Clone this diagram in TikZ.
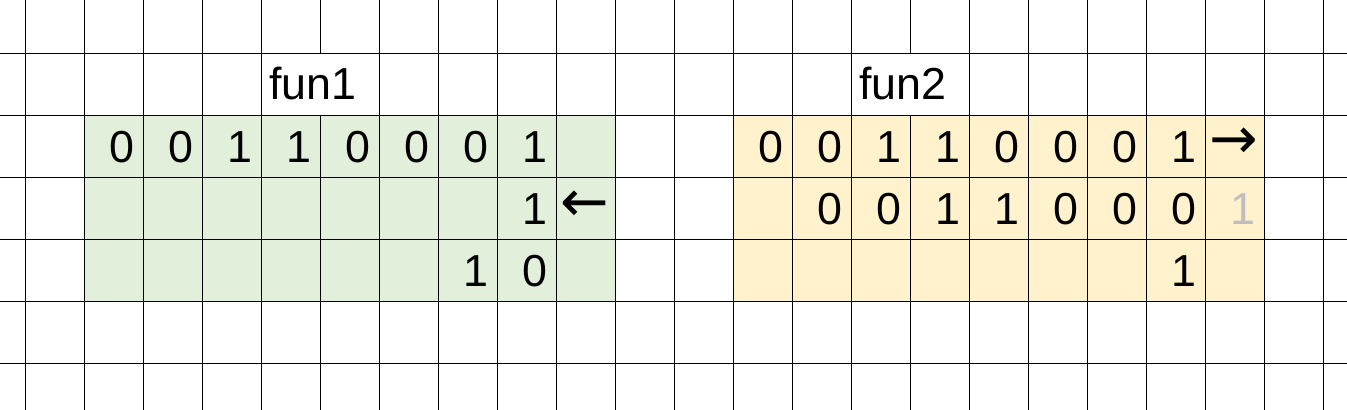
\documentclass[tikz,border=0pt]{standalone}
\usepackage{fontspec}
\setmainfont{Liberation Sans}
\newfontfamily\arrowfont{DejaVu Sans}
\definecolor{fungreen}{HTML}{E2EFDA}
\definecolor{funyellow}{HTML}{FFF2CC}
\definecolor{fungray}{HTML}{BFBFBF}
\begin{document}
\begin{tikzpicture}[x=1.18cm,y=1.24cm,
  dig/.style={anchor=base east,inner sep=0pt,font=\fontsize{25.5}{30}\selectfont},
  lbl/.style={anchor=base west,inner sep=0pt,font=\fontsize{25.5}{30}\selectfont},
  arr/.style={inner sep=0pt,font=\arrowfont\fontsize{33}{36}\selectfont}]
\useasboundingbox(-0.429,0.86)rectangle(22.402,-5.737);
\clip(-0.429,0.86)rectangle(22.402,-5.737);
%
\fill[fungreen](1,-1)rectangle(10,-4);
\fill[funyellow](12,-1)rectangle(21,-4);
% no line under the two titles
\foreach \i in {0,...,22}{
  \ifnum\i=5 \draw[line width=0.6pt](\i,1)--(\i,0)(\i,-1)--(\i,-6);
  \else\ifnum\i=15 \draw[line width=0.6pt](\i,1)--(\i,0)(\i,-1)--(\i,-6);
  \else \draw[line width=0.6pt](\i,1)--(\i,-6);\fi\fi}
\foreach \j in {0,...,5} \draw[line width=0.6pt](-1,-\j)--(23,-\j);
%
\node[lbl](fun1) at (4.13,-0.75){fun1};
\foreach \v [count=\c] in {0,0,1,1,0,0,0,1}
  \node[dig](ga\c) at (\c+0.86,-1.753){\v};
\node[dig](gb8) at (8.86,-2.753){1};
\node[arr](lt) at (9.478,-2.463){←};
\node[dig](gc7) at (7.86,-3.753){1};
\node[dig](gc8) at (8.86,-3.753){0};
%
\node[lbl](fun2) at (14.13,-0.75){fun2};
\foreach \v [count=\c] in {0,0,1,1,0,0,0,1}
  \node[dig](ya\c) at (\c+11.86,-1.753){\v};
\node[arr](rt) at (20.478,-1.452){→};
\foreach \v [count=\c] in {0,0,1,1,0,0,0}
  \node[dig](yb\c) at (\c+12.86,-2.753){\v};
\node[dig,text=fungray](yb8) at (20.86,-2.753){1};
\node[dig](yc7) at (19.86,-3.753){1};
\end{tikzpicture}
\end{document}
